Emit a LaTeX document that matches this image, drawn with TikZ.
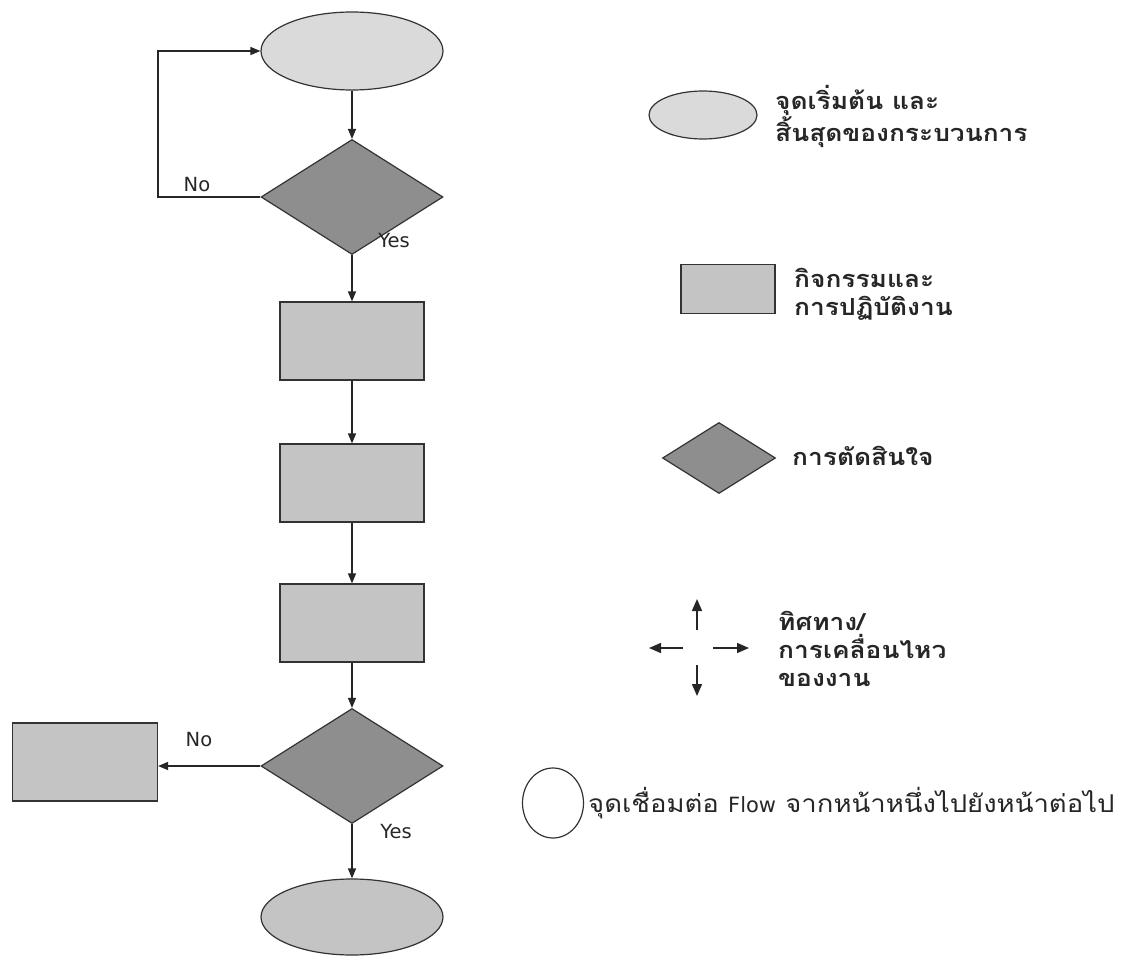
\documentclass[tikz,border=0pt]{standalone}
\usepackage{fontspec}
\setmainfont{DejaVu Sans}
\newfontfamily\thai[Script=Thai,FakeStretch=1.12]{Loma}
\usetikzlibrary{shapes.geometric,arrows.meta}
\definecolor{lightfill}{HTML}{DADADA}
\definecolor{midfill}{HTML}{C4C4C4}
\definecolor{darkfill}{HTML}{8E8E8E}
\definecolor{edge}{HTML}{333333}
\begin{document}
\begin{tikzpicture}[x=1pt,y=-1pt,
  term/.style={ellipse, draw=edge, line width=1.2pt, fill=lightfill, minimum width=182pt, minimum height=78pt, inner sep=0pt},
  proc/.style={rectangle, draw=edge, line width=1.2pt, fill=midfill, minimum width=144pt, minimum height=78pt, inner sep=0pt},
  dec/.style={diamond, draw=edge, line width=1.2pt, fill=darkfill, minimum width=182pt, minimum height=115pt, inner sep=0pt, shape aspect=1.58},
  arr/.style={draw=black!85, line width=1.3pt, -{Triangle[length=10pt,width=8pt]}},
  legarr/.style={draw=black!85, line width=1.6pt, -{Triangle[length=12pt,width=10pt]}},
  lbl/.style={font=\fontsize{19.5}{22}\selectfont, text=black!85, inner sep=0pt},
  legtxt/.style={font=\thai\bfseries\fontsize{23.5}{28}\selectfont, align=left, anchor=west, inner sep=0pt, text=black!85}
]
\useasboundingbox (0,0) rectangle (1138,963);
% main flow
\node[term] (e1) at (352,51) {};
\node[dec] (d1) at (352,197) {};
\node[proc] (p1) at (352,341) {};
\node[proc] (p2) at (352,483) {};
\node[proc] (p3) at (352,623) {};
\node[dec] (d2) at (352,766) {};
\node[proc, minimum width=145pt] (p4) at (85,762) {};
\node[term, fill=midfill, minimum height=76pt] (e2) at (352,917) {};
\coordinate (loopc) at (158,197);
\draw[arr] (e1) -- (d1);
\draw[arr] (d1.west) -- (loopc) |- (e1.west);
\draw[arr] (d1) -- (p1);
\draw[arr] (p1) -- (p2);
\draw[arr] (p2) -- (p3);
\draw[arr] (p3) -- (d2);
\draw[arr] (d2.west) -- (p4.east |- d2.west);
\draw[arr] (d2) -- (e2);
\node[lbl] (no1) at (197,185) {No};
\node[lbl] (yes1) at (394,241) {Yes};
\node[lbl] (no2) at (199,740) {No};
\node[lbl] (yes2) at (396,832) {Yes};
% legend
\node[term, minimum width=108pt, minimum height=48pt] (le) at (703,115) {};
\node[legtxt] (lt1) at (775,116) {จุดเริ่มต้น และ\\สิ้นสุดของกระบวนการ};
\node[proc, minimum width=94pt, minimum height=49pt] (lp) at (728,289) {};
\node[legtxt] (lt2) at (794,294) {กิจกรรมและ\\การปฏิบัติงาน};
\node[dec, minimum width=113pt, minimum height=71pt] (ld) at (719,458) {};
\node[legtxt] (lt3) at (792,456) {การตัดสินใจ};
\coordinate (lus) at (697,630); \coordinate (lue) at (697,599);
\coordinate (lds) at (697,665); \coordinate (lde) at (697,696);
\coordinate (lls) at (683,648); \coordinate (lle) at (649,648);
\coordinate (lrs) at (713,648); \coordinate (lre) at (749,648);
\draw[legarr] (lus) -- (lue);
\draw[legarr] (lds) -- (lde);
\draw[legarr] (lls) -- (lle);
\draw[legarr] (lrs) -- (lre);
\node[legtxt] (lt4) at (778,649) {ทิศทาง/\\การเคลื่อนไหว\\ของงาน};
\node[ellipse, draw=edge, line width=1.2pt, fill=white, minimum width=61pt, minimum height=70pt, inner sep=0pt] (lc) at (553,803) {};
\node[legtxt, font=\thai\fontsize{24.5}{28}\selectfont] (lt5) at (588,803) {จุดเชื่อมต่อ {\rmfamily\fontsize{21}{24}\selectfont Flow} จากหน้าหนึ่งไปยังหน้าต่อไป};
\end{tikzpicture}
\end{document}
